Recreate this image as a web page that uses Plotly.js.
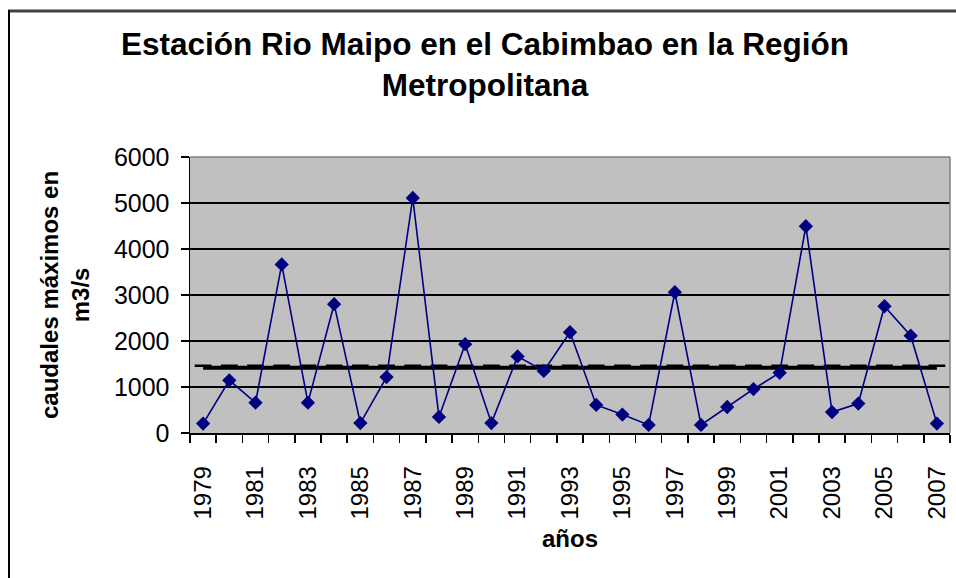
<!DOCTYPE html>
<html>
<head>
<meta charset="utf-8">
<script src="https://cdn.plot.ly/plotly-3.0.1.min.js"></script>
<style>
html,body{margin:0;padding:0;background:#fff;}
#chart{width:956px;height:578px;}
</style>
</head>
<body>
<div id="chart"></div>
<script>
// Data
const years = [1979,1980,1981,1982,1983,1984,1985,1986,1987,1988,1989,1990,1991,1992,1993,1994,1995,1996,1997,1998,1999,2000,2001,2002,2003,2004,2005,2006,2007];
const caudalesMaximos = [205,1145,660,3665,660,2800,215,1215,5110,350,1930,215,1665,1350,2190,610,400,175,3060,175,565,955,1310,4495,455,640,2755,2115,205];
const promedio = [1420,1420,1420,1420,1420,1420,1420,1420,1420,1420,1420,1420,1420,1420,1420,1420,1420,1420,1420,1420,1420,1420,1420,1420,1420,1420,1420,1420,1420];
const promedioMarcas = [1462,1462,1462,1462,1462,1462,1462,1462,1462,1462,1462,1462,1462,1462,1462,1462,1462,1462,1462,1462,1462,1462,1462,1462,1462,1462,1462,1462,1462];
const yTicks = [0,1000,2000,3000,4000,5000,6000];
const xTickYears = [1979,1981,1983,1985,1987,1989,1991,1993,1995,1997,1999,2001,2003,2005,2007];

const chartTitle = 'Estación Rio Maipo en el Cabimbao en la Región<br>Metropolitana';
const xTitle = 'años';
const yTitle = 'caudales máximos en<br>m3/s';

const FONT = 'Liberation Sans, Arial, sans-serif';

// plot area geometry in pixels
const L = 190, R = 6, T = 157, B = 145, W = 956, H = 578;
const pw = W - L - R, ph = H - T - B;
const px = v => (v - L) / pw;          // page x -> paper x
const py = v => (H - B - v) / ph;      // page y -> paper y

const traces = [
  {
    x: years, y: promedio, type: 'scatter', mode: 'lines',
    line: {color: '#000000', width: 4}, hoverinfo: 'skip', showlegend: false
  },
  {
    x: years, y: promedioMarcas, type: 'scatter', mode: 'markers',
    marker: {symbol: 'line-ew', size: 12, color: '#000000', line: {color: '#000000', width: 2.5}},
    hoverinfo: 'skip', showlegend: false
  },
  {
    x: years, y: caudalesMaximos, type: 'scatter', mode: 'lines+markers',
    line: {color: '#000080', width: 1.6},
    marker: {symbol: 'diamond', size: 11, color: '#000080'},
    showlegend: false
  }
];

const layout = {
  width: W, height: H,
  margin: {l: L, r: R, t: T, b: B, pad: 0},
  paper_bgcolor: '#ffffff',
  plot_bgcolor: '#c0c0c0',
  showlegend: false,
  font: {family: FONT, color: '#000'},
  title: {
    text: chartTitle,
    font: {family: FONT, size: 31.5, color: '#000', weight: 'bold'},
    xref: 'container', yref: 'container',
    x: 485 / W, xanchor: 'center',
    y: 1 - 55 / H, yanchor: 'top'
  },
  xaxis: {
    type: 'linear',
    range: [1978.5, 2007.5],
    tickmode: 'array', tickvals: xTickYears,
    ticktext: xTickYears.map(String),
    tickangle: -90,
    ticks: '', ticklabelstandoff: 22,
    tickfont: {family: FONT, size: 24, color: '#000'},
    minor: {tickmode: 'linear', tick0: 1978.5, dtick: 1, ticks: 'outside', ticklen: 8, tickwidth: 1.5, tickcolor: '#000', showgrid: false},
    showgrid: false, zeroline: false,
    showline: true, linecolor: '#000', linewidth: 1.5,
    fixedrange: true
  },
  yaxis: {
    range: [0, 6000],
    tickmode: 'array', tickvals: yTicks,
    ticks: 'outside', ticklen: 8, tickwidth: 1.5, tickcolor: '#000',
    ticklabelstandoff: 6,
    tickfont: {family: FONT, size: 25, color: '#000'},
    showgrid: true, gridcolor: '#000', gridwidth: 1.3,
    zeroline: false,
    showline: true, linecolor: '#000', linewidth: 1.5,
    fixedrange: true
  },
  shapes: [
    // plot area frame (top and right in gray)
    {type: 'line', xref: 'paper', yref: 'paper', x0: 0, x1: 1, y0: 1, y1: 1, line: {color: '#808080', width: 1.5}},
    {type: 'line', xref: 'paper', yref: 'paper', x0: 1, x1: 1, y0: 0, y1: 1, line: {color: '#808080', width: 1.5}},
    // chart area border (top and left visible)
    {type: 'line', xref: 'paper', yref: 'paper', x0: px(8), x1: px(956), y0: py(11), y1: py(11), line: {color: '#404040', width: 3}},
    {type: 'line', xref: 'paper', yref: 'paper', x0: px(9), x1: px(9), y0: py(10), y1: py(578), line: {color: '#000000', width: 2}}
  ],
  annotations: [
    {
      text: xTitle, showarrow: false,
      xref: 'paper', yref: 'paper', x: px(570), y: py(538),
      xanchor: 'center', yanchor: 'middle',
      font: {family: FONT, size: 24, color: '#000', weight: 'bold'}
    },
    {
      text: yTitle, showarrow: false, textangle: -90,
      xref: 'paper', yref: 'paper', x: px(65), y: py(295),
      xanchor: 'center', yanchor: 'middle',
      font: {family: FONT, size: 24, color: '#000', weight: 'bold'}
    }
  ]
};

Plotly.newPlot('chart', traces, layout, {displayModeBar: false, staticPlot: true});
</script>
</body>
</html>
